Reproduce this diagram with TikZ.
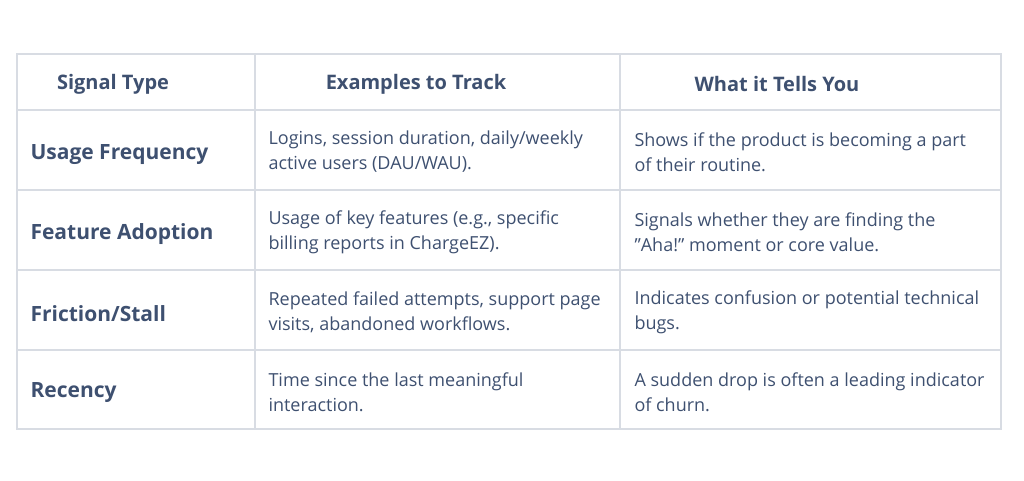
\documentclass[tikz,border=0pt]{standalone}
\usepackage{fontspec}
\setmainfont{Open Sans}
\definecolor{txt}{HTML}{3E5070}
\definecolor{grid}{HTML}{D8DCE3}
\begin{document}
\begin{tikzpicture}[x=1pt,y=-1pt,
 hd/.style={font=\fontsize{20}{24}\selectfont\bfseries,text=txt},
 lab/.style={font=\fontsize{21}{24}\selectfont\bfseries,text=txt,anchor=west},
 bd/.style={font=\fontsize{18}{25}\selectfont,text=txt,anchor=west,align=left}]
\useasboundingbox (0,0) rectangle (1024,480);
\draw[grid,line width=1.2pt] (17,54) rectangle (1001,429);
\foreach \y in {110,190,270,350} \draw[grid,line width=1.2pt] (17,\y) -- (1001,\y);
\foreach \x in {255,620} \draw[grid,line width=1.2pt] (\x,54) -- (\x,429);
\node[hd] (h1) at (113,84) {Signal Type};
\node[hd] (h2) at (416,84) {Examples to Track};
\node[hd] (h3) at (777,84) {What it Tells You};
\node[lab] (r1) at (27,155) {Usage Frequency};
\node[lab] (r2) at (27,234) {Feature Adoption};
\node[lab] (r3) at (27,314) {Friction/Stall};
\node[lab] (r4) at (27,393) {Recency};
\node[bd] (e1) at (265,152) {Logins, session duration, daily/weekly\\active users (DAU/WAU).};
\node[bd] (e2) at (265,232) {Usage of key features (e.g., specific\\billing reports in ChargeEZ).};
\node[bd] (e3) at (265,312) {Repeated failed attempts, support page\\visits, abandoned workflows.};
\node[bd] (e4) at (265,392) {Time since the last meaningful\\interaction.};
\node[bd] (w1) at (631,152) {Shows if the product is becoming a part\\of their routine.};
\node[bd] (w2) at (631,232) {Signals whether they are finding the\\\symbol{34}Aha!\symbol{34} moment or core value.};
\node[bd] (w3) at (631,312) {Indicates confusion or potential technical\\bugs.};
\node[bd] (w4) at (631,392) {A sudden drop is often a leading indicator\\of churn.};
\end{tikzpicture}
\end{document}
